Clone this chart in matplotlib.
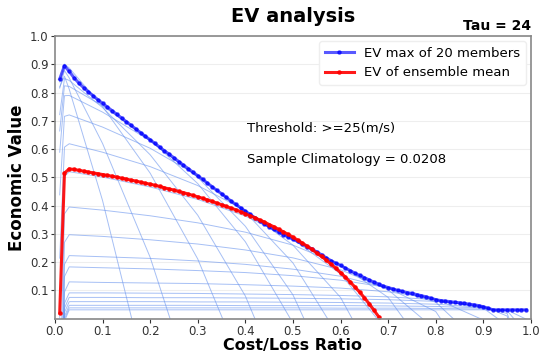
import matplotlib.pyplot as plt
import numpy as np

climatology = 0.0208
threshold = ">=25(m/s)"
tau = 24
n_members = 20

# cost/loss ratios 0.01 .. 0.99
cost_loss = np.round(np.arange(1, 100) * 0.01, 2)

ev_max = [
    0.848, 0.895, 0.875, 0.853, 0.834, 0.818, 0.803, 0.789, 0.775, 0.762,
    0.749, 0.736, 0.723, 0.710, 0.697, 0.684, 0.671, 0.658, 0.645, 0.633,
    0.620, 0.607, 0.594, 0.582, 0.569, 0.556, 0.543, 0.531, 0.518, 0.506,
    0.493, 0.480, 0.467, 0.454, 0.442, 0.429, 0.416, 0.404, 0.392, 0.380,
    0.369, 0.357, 0.346, 0.336, 0.326, 0.316, 0.306, 0.297, 0.289, 0.281,
    0.273, 0.264, 0.255, 0.246, 0.236, 0.226, 0.215, 0.205, 0.196, 0.188,
    0.179, 0.170, 0.161, 0.153, 0.145, 0.137, 0.129, 0.122, 0.115, 0.110,
    0.105, 0.100, 0.096, 0.092, 0.089, 0.085, 0.081, 0.077, 0.072, 0.067,
    0.064, 0.062, 0.060, 0.058, 0.056, 0.054, 0.051, 0.049, 0.046, 0.042,
    0.037, 0.031, 0.031, 0.031, 0.031, 0.031, 0.031, 0.031, 0.031,
]

ev_mean = [
    0.020, 0.515, 0.530, 0.528, 0.525, 0.522, 0.519, 0.516, 0.513, 0.510,
    0.507, 0.504, 0.501, 0.497, 0.494, 0.490, 0.487, 0.483, 0.479, 0.476,
    0.472, 0.468, 0.463, 0.459, 0.455, 0.450, 0.446, 0.441, 0.436, 0.431,
    0.426, 0.420, 0.415, 0.409, 0.403, 0.397, 0.391, 0.385, 0.378, 0.371,
    0.364, 0.357, 0.349, 0.342, 0.333, 0.325, 0.316, 0.307, 0.298, 0.288,
    0.278, 0.267, 0.256, 0.245, 0.232, 0.220, 0.207, 0.193, 0.178, 0.163,
    0.147, 0.130, 0.112, 0.094, 0.074, 0.053, 0.030, 0.007,
]

# EV curve of each member threshold, sampled on a coarser cost/loss grid
member_grid = [0.01, 0.02, 0.03, 0.1, 0.2, 0.3, 0.4, 0.5, 0.6, 0.7, 0.8, 0.9, 0.95, 0.99]
member_ev = [
    [0.820, 0.858, 0.812, 0.418, -0.264],
    [0.816, 0.878, 0.852, 0.620, 0.217, -0.302],
    [0.838, 0.901, 0.887, 0.751, 0.515, 0.211, -0.193],
    [0.722, 0.850, 0.843, 0.747, 0.580, 0.366, 0.080, -0.320],
    [0.664, 0.824, 0.822, 0.753, 0.633, 0.478, 0.272, -0.016],
    [0.589, 0.789, 0.790, 0.731, 0.630, 0.500, 0.327, 0.084, -0.280],
    [0.438, 0.716, 0.721, 0.678, 0.603, 0.506, 0.377, 0.197, -0.074],
    [0.214, 0.607, 0.619, 0.589, 0.538, 0.471, 0.383, 0.260, 0.075, -0.233],
    [0.002, 0.503, 0.520, 0.501, 0.466, 0.422, 0.363, 0.281, 0.158, -0.048],
    [-0.267, 0.371, 0.395, 0.384, 0.364, 0.339, 0.306, 0.260, 0.191, 0.075, -0.157],
    [-0.474, 0.270, 0.297, 0.291, 0.279, 0.264, 0.243, 0.215, 0.173, 0.102, -0.040],
    [-0.631, 0.192, 0.223, 0.219, 0.213, 0.204, 0.192, 0.175, 0.150, 0.108, 0.025, -0.225],
    [-0.718, 0.149, 0.183, 0.180, 0.176, 0.170, 0.163, 0.152, 0.136, 0.110, 0.058, -0.100],
    [-0.830, 0.094, 0.130, 0.128, 0.126, 0.124, 0.120, 0.115, 0.108, 0.095, 0.070, -0.005],
    [-0.911, 0.054, 0.091, 0.091, 0.090, 0.089, 0.087, 0.085, 0.082, 0.077, 0.067, 0.037, -0.024],
    [-0.945, 0.037, 0.075, 0.075, 0.074, 0.074, 0.073, 0.072, 0.070, 0.067, 0.061, 0.044, 0.009, -0.272],
    [-0.977, 0.022, 0.060, 0.060, 0.060, 0.059, 0.059, 0.058, 0.057, 0.055, 0.051, 0.040, 0.018, -0.158],
    [-1.004, 0.008, 0.047, 0.047, 0.047, 0.047, 0.046, 0.046, 0.046, 0.045, 0.043, 0.038, 0.028, -0.052],
    [-1.023, -0.001, 0.038, 0.038, 0.038, 0.038, 0.038, 0.038, 0.037, 0.037, 0.036, 0.034, 0.030, -0.002],
    [-1.038, -0.009, 0.031, 0.031, 0.031, 0.031, 0.031, 0.031, 0.031, 0.031, 0.031, 0.031, 0.031, 0.031],
]

fig = plt.figure(figsize=(5.44, 3.54), dpi=100)
ax = fig.add_axes([0.101, 0.1, 0.875, 0.798])

for vals in member_ev:
    ax.plot(member_grid[:len(vals)], vals, color='#6b95ee', alpha=0.6, lw=0.7)

ax.plot(cost_loss, ev_max, color='blue', alpha=0.65, lw=2.2, marker='.', ms=4.5,
        label=f'EV max of {n_members} members')
ax.plot(cost_loss[:len(ev_mean)], ev_mean, color='red', alpha=0.9, lw=2.2,
        marker='.', ms=4.5, label='EV of ensemble mean')

ax.text(0.403, 0.676, f'Threshold: {threshold}', fontsize=9.5, va='center')
ax.text(0.403, 0.564, f'Sample Climatology = {climatology}', fontsize=9.5, va='center')

ax.set_xlim(0, 1)
ax.set_ylim(0, 1)
ax.set_xticks(np.round(np.arange(0, 11) * 0.1, 1))
ax.set_yticks(np.round(np.arange(1, 11) * 0.1, 1))
ax.tick_params(labelsize=8.5, colors='#333333', length=3, pad=1.5)
ax.grid(axis='y', color='#eeeeee', lw=0.8)
ax.set_axisbelow(True)
for sp in ax.spines.values():
    sp.set_color('#888888')
    sp.set_linewidth(1.2)

ax.set_xlabel('Cost/Loss Ratio', fontsize=11.5, fontweight='bold', labelpad=0)
ax.set_ylabel('Economic Value', fontsize=12, fontweight='bold', labelpad=3)
ax.set_title('EV analysis', fontsize=14, fontweight='bold', pad=10)
ax.text(1.0, 1.01, f'Tau = {tau}', transform=ax.transAxes, ha='right', va='bottom',
        fontsize=10, fontweight='bold')

ax.legend(loc='upper right', fontsize=9.5, framealpha=1, edgecolor='#eeeeee',
          borderaxespad=0.4, handlelength=2.2)

fig.savefig('out.png', dpi=100)
